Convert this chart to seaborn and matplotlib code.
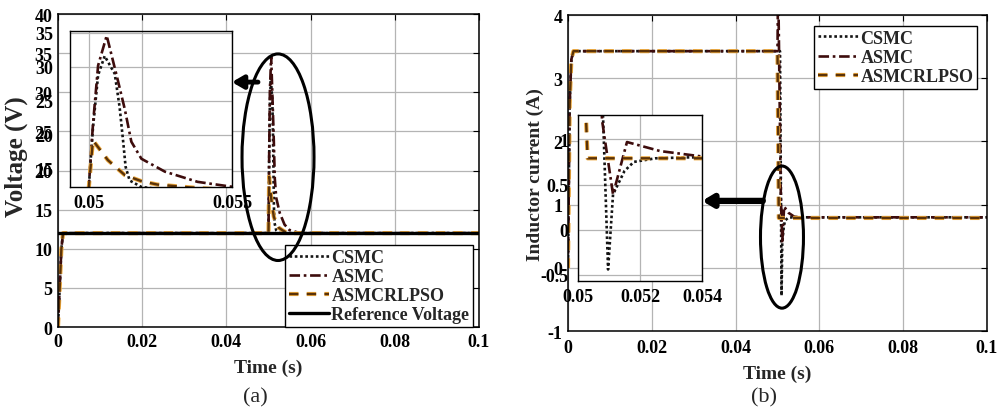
import matplotlib
matplotlib.use("Agg")
import matplotlib.pyplot as plt
import matplotlib.patheffects as pe
from matplotlib.patches import Ellipse
import seaborn as sns

# ---------------- (a) output voltage ----------------
csmc_v_time = [0, 0.0004, 0.0008, 0.0012, 0.0500, 0.05015, 0.05033, 0.05056,
               0.05091, 0.05108, 0.0512, 0.05129, 0.05143, 0.05184, 0.0525, 0.1]
csmc_v = [0, 5, 10, 12, 12, 21.0, 28.8, 31.6, 29.0, 24.1, 19.2, 15.3, 13.3,
          12.35, 12.0, 12]

asmc_v_time = [0, 0.0004, 0.0008, 0.0012, 0.0500, 0.05015, 0.05033, 0.05063,
               0.05102, 0.05126, 0.05149, 0.05184, 0.05266, 0.0538, 0.05496,
               0.0575, 0.1]
asmc_v = [0, 5, 10, 12, 12, 21.5, 30.2, 34.6, 28.0, 23.8, 19.0, 16.5, 14.6,
          13.1, 12.4, 12.0, 12]

rlpso_v_time = [0, 0.0004, 0.0008, 0.0012, 0.0500, 0.05015, 0.05067, 0.05126,
                0.05184, 0.0524, 0.0535, 0.0545, 0.1]
rlpso_v = [0, 5, 10, 12, 12, 19.2, 16.3, 14.1, 13.2, 12.7, 12.3, 12.0, 12]

ref_time = [0, 0.1]
ref_v = [12, 12]

# ---------------- (b) inductor current ----------------
csmc_i_time = [0, 0.0004, 0.0008, 0.0013, 0.0500, 0.0506, 0.05097, 0.05113,
               0.0515, 0.0518, 0.0525, 0.0535, 0.1]
csmc_i = [0, 2.6, 3.3, 3.43, 3.43, 3.43, -0.44, 0.39, 0.65, 0.75, 0.79, 0.8, 0.8]

asmc_i_time = [0, 0.0004, 0.0008, 0.0013, 0.0500, 0.05015, 0.05078, 0.05113,
               0.05158, 0.05265, 0.054, 0.0555, 0.1]
asmc_i = [0, 2.6, 3.3, 3.43, 3.43, 4.6, 1.2, 0.39, 0.97, 0.87, 0.81, 0.8, 0.8]

rlpso_i_time = [0, 0.0004, 0.0008, 0.0013, 0.0500, 0.05031, 0.1]
rlpso_i = [0, 2.6, 3.3, 3.43, 3.43, 0.79, 0.79]

# ---------------- axis ticks ----------------
main_xticks = [0, 0.02, 0.04, 0.06, 0.08, 0.1]
main_xticklabels = ["0", "0.02", "0.04", "0.06", "0.08", "0.1"]
volt_yticks = [0, 5, 10, 15, 20, 25, 30, 35, 40]
volt_yticklabels = ["0", "5", "10", "15", "20", "25", "30", "35", "40"]
curr_yticks = [-1, 0, 1, 2, 3, 4]
curr_yticklabels = ["-1", "0", "1", "2", "3", "4"]

zoom_v_xticks = [0.05, 0.05185, 0.055]
zoom_v_xticklabels = ["0.05", "", "0.055"]
zoom_v_yticks = [15, 20, 25, 30, 35]
zoom_v_yticklabels = ["15", "20", "25", "30", "35"]
zoom_i_xticks = [0.05, 0.052, 0.054]
zoom_i_xticklabels = ["0.05", "0.052", "0.054"]
zoom_i_yticks = [-0.5, 0, 0.5, 1]
zoom_i_yticklabels = ["-0.5", "0", "0.5", "1"]

series_names = ["CSMC", "ASMC", "ASMCRLPSO", "Reference Voltage"]

# ---------------- styling ----------------
sns.set_theme(style="white")
plt.rcParams["font.family"] = ["Liberation Serif", "DejaVu Serif"]
plt.rcParams["font.weight"] = "bold"
plt.rcParams["axes.labelweight"] = "bold"

CSMC_STYLE = dict(color="#141414", linewidth=1.9, dashes=(1.0, 1.0))
ASMC_STYLE = dict(color="#3d0c0c", linewidth=1.9, dashes=(4, 1.4, 1, 1.4))
RLPSO_STYLE = dict(color="#5a3208", linewidth=1.7, dashes=(4, 3.5),
                   path_effects=[pe.Stroke(linewidth=3.0, foreground="#eda83c"),
                                 pe.Normal()])
REF_STYLE = dict(color="black", linewidth=2.4)

GRID_COLOR = "#b4b4b4"
TICK_FS = 13


def draw(ax, x, y, style, label=None):
    sns.lineplot(x=x, y=y, ax=ax, estimator=None, sort=False, label=label,
                 legend=False, **style)


def style_axes(ax, xlim, ylim, xt, xtl, yt, ytl, xpad, ypad, spine_lw=1.1):
    ax.set_xlim(*xlim)
    ax.set_ylim(*ylim)
    ax.set_xticks(xt)
    ax.set_xticklabels(xtl)
    ax.set_yticks(yt)
    ax.set_yticklabels(ytl)
    ax.grid(True, color=GRID_COLOR, linewidth=0.9)
    ax.set_axisbelow(True)
    ax.tick_params(axis="both", direction="in", length=4, width=0.8,
                   top=True, right=True, labelsize=TICK_FS, colors="black")
    ax.tick_params(axis="x", pad=xpad)
    ax.tick_params(axis="y", pad=ypad)
    for lab in ax.get_xticklabels() + ax.get_yticklabels():
        lab.set_fontweight("bold")
    for s in ax.spines.values():
        s.set_visible(True)
        s.set_color("black")
        s.set_linewidth(spine_lw)
    ax.set_xlabel("")
    ax.set_ylabel("")


LEGEND_KW = dict(borderaxespad=0, frameon=True, fancybox=False, framealpha=1,
                 edgecolor="black", handlelength=2.2, handletextpad=0.15,
                 labelspacing=0.12, borderpad=0.2,
                 prop={"family": "Liberation Serif", "weight": "bold",
                       "size": 13})

fig = plt.figure(figsize=(10, 4.14), dpi=100)
fig.patch.set_facecolor("white")

# ================= panel (a) =================
ax_a = fig.add_axes([0.058, 0.2077, 0.421, 0.756])
draw(ax_a, csmc_v_time, csmc_v, CSMC_STYLE, series_names[0])
draw(ax_a, asmc_v_time, asmc_v, ASMC_STYLE, series_names[1])
draw(ax_a, rlpso_v_time, rlpso_v, RLPSO_STYLE, series_names[2])
draw(ax_a, ref_time, ref_v, REF_STYLE, series_names[3])
style_axes(ax_a, (0, 0.1), (0, 40), main_xticks, main_xticklabels,
           volt_yticks, volt_yticklabels, xpad=4, ypad=4)
ax_a.set_xlabel("Time (s)", fontsize=14, fontweight="bold")
ax_a.set_ylabel("Voltage (V)", fontsize=18, fontweight="bold")
ax_a.xaxis.set_label_coords(0.5, -0.102)
ax_a.yaxis.set_label_coords(-0.072, 0.546)

leg_a = ax_a.legend(loc="lower right", bbox_to_anchor=(0.986, 0.0), **LEGEND_KW)
leg_a.get_frame().set_linewidth(1.0)

ell_a = Ellipse((0.05226, 21.7), 0.0171, 26.4, fill=False, edgecolor="black",
                linewidth=2.2, zorder=6)
ax_a.add_patch(ell_a)
ax_a.annotate("", xy=(0.0413, 31.3), xytext=(0.0475, 31.3),
              arrowprops=dict(arrowstyle="-|>,head_length=0.55,head_width=0.32",
                              lw=3.5, color="black", shrinkA=0, shrinkB=0),
              annotation_clip=False, zorder=6)

# zoomed view of the voltage overshoot
ins_a = fig.add_axes([0.070, 0.546, 0.162, 0.377])
ins_a.set_facecolor("white")
draw(ins_a, csmc_v_time, csmc_v, CSMC_STYLE)
draw(ins_a, asmc_v_time, asmc_v, ASMC_STYLE)
draw(ins_a, rlpso_v_time, rlpso_v, RLPSO_STYLE)
style_axes(ins_a, (0.04935, 0.055), (12.35, 35.3), zoom_v_xticks,
           zoom_v_xticklabels, zoom_v_yticks, zoom_v_yticklabels,
           xpad=5, ypad=12, spine_lw=1.0)
ins_a.tick_params(top=False, right=False, length=0)

# ================= panel (b) =================
ax_b = fig.add_axes([0.568, 0.198, 0.419, 0.763])
draw(ax_b, csmc_i_time, csmc_i, CSMC_STYLE, series_names[0])
draw(ax_b, asmc_i_time, asmc_i, ASMC_STYLE, series_names[1])
draw(ax_b, rlpso_i_time, rlpso_i, RLPSO_STYLE, series_names[2])
style_axes(ax_b, (0, 0.1), (-1, 4), main_xticks, main_xticklabels,
           curr_yticks, curr_yticklabels, xpad=6, ypad=4)
ax_b.set_xlabel("Time (s)", fontsize=14, fontweight="bold")
ax_b.set_ylabel("Inductor current (A)", fontsize=14, fontweight="bold")
ax_b.xaxis.set_label_coords(0.5, -0.105)
ax_b.yaxis.set_label_coords(-0.058, 0.5)

leg_b = ax_b.legend(loc="upper right", bbox_to_anchor=(0.976, 0.965),
                    **LEGEND_KW)
leg_b.get_frame().set_linewidth(1.0)

ell_b = Ellipse((0.05107, 0.487), 0.01026, 2.25, fill=False, edgecolor="black",
                linewidth=2.2, zorder=6)
ax_b.add_patch(ell_b)
ax_b.annotate("", xy=(0.0320, 1.06), xytext=(0.0465, 1.06),
              arrowprops=dict(arrowstyle="-|>,head_length=0.5,head_width=0.3",
                              lw=4.5, color="black", shrinkA=0, shrinkB=0),
              annotation_clip=False, zorder=6)

# zoomed view of the current transient
ins_b = fig.add_axes([0.578, 0.319, 0.124, 0.401])
ins_b.set_facecolor("white")
draw(ins_b, csmc_i_time, csmc_i, CSMC_STYLE)
draw(ins_b, asmc_i_time, asmc_i, ASMC_STYLE)
draw(ins_b, rlpso_i_time, rlpso_i, RLPSO_STYLE)
style_axes(ins_b, (0.05, 0.054), (-0.567, 1.27), zoom_i_xticks,
           zoom_i_xticklabels, zoom_i_yticks, zoom_i_yticklabels,
           xpad=5, ypad=7, spine_lw=1.0)
ins_b.tick_params(top=False, right=False, length=0)

# panel captions
fig.text(0.255, 0.04, "(a)", ha="center", va="center", fontsize=16,
         fontweight="normal", family="Liberation Serif")
fig.text(0.764, 0.04, "(b)", ha="center", va="center", fontsize=16,
         fontweight="normal", family="Liberation Serif")

fig.savefig("out.png", dpi=100, facecolor="white")
